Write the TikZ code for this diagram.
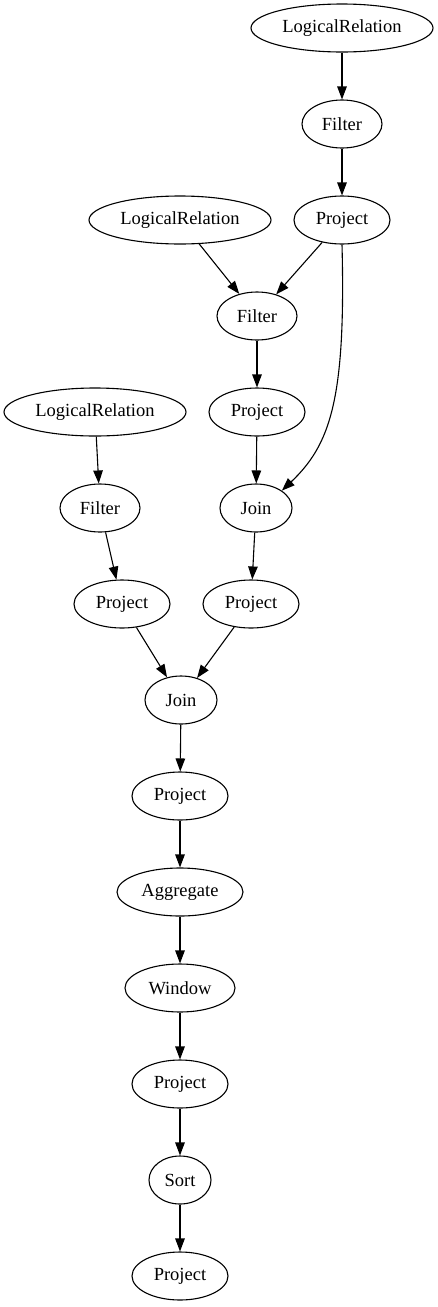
\documentclass[tikz,border=0pt]{standalone}
\usepackage{fontspec}
\setmainfont{Liberation Serif}
\usetikzlibrary{arrows.meta,shapes.geometric}

\begin{document}
\begin{tikzpicture}[
    >={Triangle[length=13pt,width=9.5pt]},
    x=1pt, y=-1pt,
    op/.style={draw,ellipse,line width=1.1pt,minimum height=48pt,
               inner sep=0pt,font=\fontsize{18.5}{20}\selectfont},
    rel/.style={op,minimum width=182pt},
    flow/.style={->,line width=1.1pt},
  ]
  \useasboundingbox (0,0) rectangle (438,1307);

  % --- first relation branch (right) ---
  \node[rel] (lr1) at (342,28)  {LogicalRelation};
  \node[op,minimum width=80pt] (f1) at (342,124) {Filter};
  \node[op,minimum width=96pt] (p1) at (342,220) {Project};

  % --- second relation branch (middle) ---
  \node[rel] (lr2) at (180,220) {LogicalRelation};
  \node[op,minimum width=80pt] (f2) at (257,316) {Filter};
  \node[op,minimum width=96pt] (p2) at (257,412) {Project};
  \node[op,minimum width=72pt] (j1) at (256,508) {Join};
  \node[op,minimum width=96pt] (p4) at (251,604) {Project};

  % --- third relation branch (left) ---
  \node[rel] (lr3) at (95,412)  {LogicalRelation};
  \node[op,minimum width=80pt] (f3) at (100,508) {Filter};
  \node[op,minimum width=96pt] (p3) at (122,604) {Project};

  % --- main chain ---
  \node[op,minimum width=72pt]  (j2)  at (181,700)  {Join};
  \node[op,minimum width=96pt]  (p5)  at (180,796)  {Project};
  \node[op,minimum width=126pt] (agg) at (180,892)  {Aggregate};
  \node[op,minimum width=110pt] (win) at (180,988)  {Window};
  \node[op,minimum width=96pt]  (p6)  at (180,1084) {Project};
  \node[op,minimum width=62pt]  (srt) at (180,1180) {Sort};
  \node[op,minimum width=96pt]  (p7)  at (180,1276) {Project};

  % --- edges ---
  \draw[flow] (lr1) -- (f1);
  \draw[flow] (f1) -- (p1);
  \draw[flow] (lr2) -- (f2);
  \draw[flow] (p1) -- (f2);
  \draw[flow] (f2) -- (p2);
  \draw[flow] (p2) -- (j1);
  \draw[flow] (p1.south) .. controls (346,400) and (330,445) .. (j1.north east);
  \draw[flow] (lr3) -- (f3);
  \draw[flow] (f3) -- (p3);
  \draw[flow] (j1) -- (p4);
  \draw[flow] (p3) -- (j2);
  \draw[flow] (p4) -- (j2);
  \draw[flow] (j2) -- (p5);
  \draw[flow] (p5) -- (agg);
  \draw[flow] (agg) -- (win);
  \draw[flow] (win) -- (p6);
  \draw[flow] (p6) -- (srt);
  \draw[flow] (srt) -- (p7);

\end{tikzpicture}
\end{document}
